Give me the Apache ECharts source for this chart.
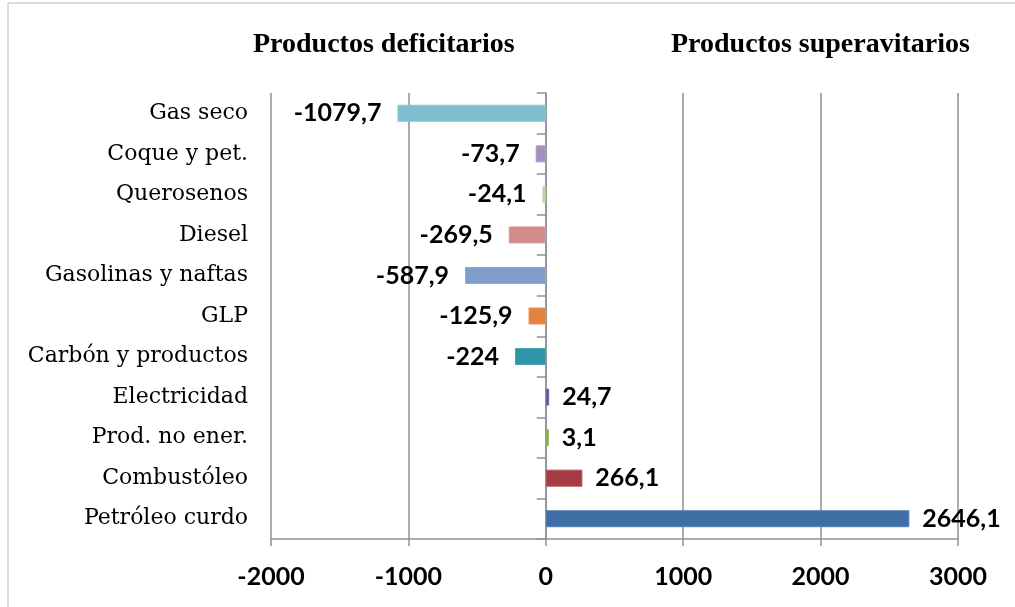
<!DOCTYPE html>
<html>
<head>
<meta charset="utf-8">
<script src="https://cdn.jsdelivr.net/npm/echarts@6/dist/echarts.min.js"></script>
<style>
  html, body { margin: 0; padding: 0; background: #fff; }
  #chart { width: 1015px; height: 607px; }
</style>
</head>
<body>
<div id="chart"></div>
<script>
// Balance by product: deficit (negative) and surplus (positive)
const categories = [
  'Gas seco', 'Coque y pet.', 'Querosenos', 'Diesel', 'Gasolinas y naftas',
  'GLP', 'Carbón y productos', 'Electricidad', 'Prod. no ener.',
  'Combustóleo', 'Petróleo curdo'
];
const values = [-1079.7, -73.7, -24.1, -269.5, -587.9, -125.9, -224, 24.7, 3.1, 266.1, 2646.1];
const barColors = [
  '#7dc0cf', '#a391bf', '#b6d48f', '#d18c8c', '#7f9dcb',
  '#e3823f', '#2e96a8', '#6a4a9c', '#7eae48', '#a63c42', '#3d6ea6'
];
const xTicks = { min: -2000, max: 3000, step: 1000 };
const titles = ['Productos deficitarios', 'Productos superavitarios'];

const fmt = v => String(v).replace('.', ',');
const gridColor = '#8d9296';

const chart = echarts.init(document.getElementById('chart'));
chart.setOption({
  backgroundColor: '#ffffff',
  animation: false,
  grid: { left: 271, right: 57, top: 93, bottom: 68, containLabel: false },
  graphic: [
    { type: 'line', shape: { x1: 8, y1: 3, x2: 1015, y2: 3 }, style: { stroke: '#cfcfcf', lineWidth: 1.5 } },
    { type: 'line', shape: { x1: 8, y1: 3, x2: 8, y2: 607 }, style: { stroke: '#cfcfcf', lineWidth: 1.5 } },
    { type: 'text', left: 253, top: 31, style: { text: titles[0], font: 'bold 28px "Liberation Serif"', fill: '#000' } },
    { type: 'text', left: 671, top: 31, style: { text: titles[1], font: 'bold 28px "Liberation Serif"', fill: '#000' } }
  ],
  xAxis: {
    type: 'value',
    min: xTicks.min, max: xTicks.max, interval: xTicks.step,
    axisLine: { show: true, onZero: false, lineStyle: { color: gridColor, width: 1.5 } },
    axisTick: { show: true, length: 7, lineStyle: { color: gridColor, width: 1.5 } },
    axisLabel: {
      color: '#000', fontFamily: 'Lato', fontWeight: 'bold', fontSize: 25, margin: 25,
      formatter: v => String(v)
    },
    splitLine: { show: true, lineStyle: { color: gridColor, width: 1.5 } }
  },
  yAxis: [
    {
      type: 'category', data: categories, inverse: true, position: 'left',
      axisLine: { show: false, onZero: false }, axisTick: { show: false },
      axisLabel: { color: '#000', fontFamily: 'DejaVu Serif', fontSize: 22, margin: 23 }
    },
    {
      type: 'category', data: categories, inverse: true, position: 'right',
      axisLine: { show: true, onZero: true, lineStyle: { color: gridColor, width: 1.5 } },
      axisTick: { show: true, inside: true, length: 9, lineStyle: { color: gridColor, width: 1.5 } },
      axisLabel: { show: false }
    }
  ],
  series: [{
    type: 'bar',
    yAxisIndex: 0,
    barWidth: 17,
    barMinHeight: 3,
    data: values.map((v, i) => ({
      value: v,
      itemStyle: { color: barColors[i], borderColor: echarts.color.lift(barColors[i], 0.12), borderWidth: 1 },
      label: { position: v < 0 ? 'left' : 'right', distance: v < 0 ? 16 : 13 }
    })),
    label: {
      show: true, color: '#000',
      fontFamily: 'Lato', fontWeight: 'bold', fontSize: 25,
      formatter: p => fmt(p.value)
    },
    z: 1
  }]
});
</script>
</body>
</html>
